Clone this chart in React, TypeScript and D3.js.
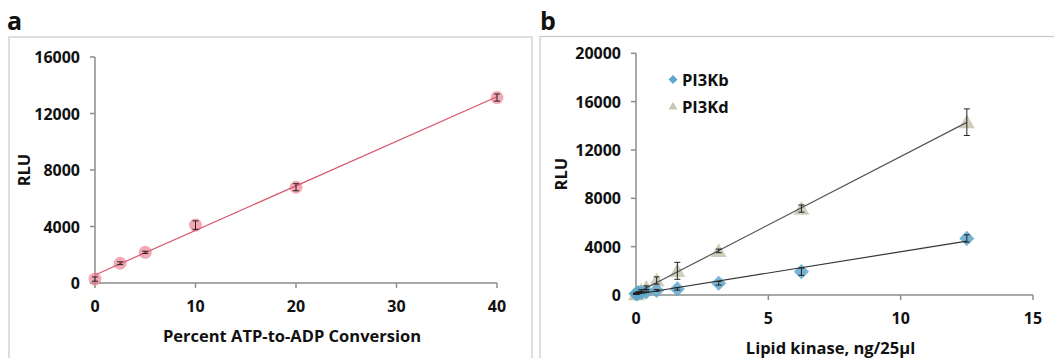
import * as d3 from "d3";
import React from "react";

// panel a: standard curve
const convPct = [0, 2.5, 5, 10, 20, 40];
const convRlu = [280, 1400, 2170, 4100, 6780, 13130];
const convErr = [150, 100, 80, 300, 250, 250];
const convXTicks = [0, 10, 20, 30, 40];
const convYTicks = [0, 4000, 8000, 12000, 16000];

// panel b: lipid kinase titration
const kinaseNg = [0, 0.024, 0.049, 0.098, 0.195, 0.39, 0.78, 1.5625, 3.125, 6.25, 12.5];
const pi3kbRlu = [100, 120, 140, 170, 210, 260, 380, 500, 970, 1930, 4680];
const pi3kbErr = [30, 30, 30, 40, 40, 60, 80, 100, 150, 300, 300];
const pi3kdRlu = [80, 110, 150, 220, 350, 600, 1200, 2000, 3650, 7150, 14300];
const pi3kdErr = [30, 30, 40, 50, 80, 150, 300, 700, 150, 300, 1100];
const kinaseXTicks = [0, 5, 10, 15];
const kinaseYTicks = [0, 4000, 8000, 12000, 16000, 20000];

const font = "'Open Sans', 'DejaVu Sans', sans-serif";
const axisColor = "#8c8c8c";

function fit(xs: number[], ys: number[]) {
  const mx = d3.mean(xs) as number;
  const my = d3.mean(ys) as number;
  let sxy = 0;
  let sxx = 0;
  xs.forEach((x, i) => {
    sxy += (x - mx) * (ys[i] - my);
    sxx += (x - mx) * (x - mx);
  });
  const slope = sxy / sxx;
  return { slope, intercept: my - slope * mx };
}

function Axes({ x, y, xTicks, yTicks, xTitle, titleX }: any) {
  const [x0, x1] = x.range();
  const [y0, y1] = y.range();
  return (
    <g fontFamily={font} fontWeight={700} fontSize={16} fill="#111">
      <line x1={x0} x2={x1} y1={y0} y2={y0} stroke={axisColor} strokeWidth={1.5} />
      <line x1={x0} x2={x0} y1={y0} y2={y1} stroke={axisColor} strokeWidth={1.5} />
      {xTicks.map((t: number) => (
        <g key={"x" + t}>
          <line x1={x(t)} x2={x(t)} y1={y0} y2={y0 + 5} stroke={axisColor} strokeWidth={1.5} />
          <text x={x(t)} y={y0 + 29} textAnchor="middle">{t}</text>
        </g>
      ))}
      {yTicks.map((t: number) => (
        <g key={"y" + t}>
          <line x1={x0 - 5} x2={x0} y1={y(t)} y2={y(t)} stroke={axisColor} strokeWidth={1.5} />
          <text x={x0 - 15} y={y(t) + 6} textAnchor="end">{t}</text>
        </g>
      ))}
      <text x={(x0 + x1) / 2 - 4} y={y0 + 59} textAnchor="middle" fontSize={16.5}>{xTitle}</text>
      <text transform={`translate(${titleX}, ${(y0 + y1) / 2}) rotate(-90)`} textAnchor="middle" fontSize={16.5}>RLU</text>
    </g>
  );
}

function ErrorBars({ x, y, xs, ys, es }: any) {
  return (
    <g stroke="#222" strokeWidth={1}>
      {xs.map((v: number, i: number) => (
        <g key={i}>
          <line x1={x(v)} x2={x(v)} y1={y(ys[i] - es[i])} y2={y(ys[i] + es[i])} />
          <line x1={x(v) - 3} x2={x(v) + 3} y1={y(ys[i] - es[i])} y2={y(ys[i] - es[i])} />
          <line x1={x(v) - 3} x2={x(v) + 3} y1={y(ys[i] + es[i])} y2={y(ys[i] + es[i])} />
        </g>
      ))}
    </g>
  );
}

function TrendLine({ x, y, xs, ys, color }: any) {
  const f = fit(xs, ys);
  const [a, b] = d3.extent(xs) as [number, number];
  return (
    <line x1={x(a)} y1={y(f.intercept + f.slope * a)} x2={x(b)} y2={y(f.intercept + f.slope * b)}
      stroke={color} strokeWidth={1.2} />
  );
}

export default function App() {
  const xa = d3.scaleLinear().domain([0, 40]).range([95, 497]);
  const ya = d3.scaleLinear().domain([0, 16000]).range([283, 57]);
  const xb = d3.scaleLinear().domain([0, 15]).range([636, 1033]);
  const yb = d3.scaleLinear().domain([0, 20000]).range([295, 53.3]);

  const diamond = d3.symbol(d3.symbolSquare, 115)() as string;
  const triangle = d3.symbol(d3.symbolTriangle, 110)() as string;
  const diamondSmall = d3.symbol(d3.symbolSquare, 40)() as string;
  const triangleSmall = d3.symbol(d3.symbolTriangle, 35)() as string;

  return (
    <svg width={1054} height={358} style={{ position: "absolute", left: 0, top: 0, background: "#fff" }}>
      <rect x={0} y={0} width={1054} height={358} fill="#fff" />
      <text x={7} y={30} fontFamily={font} fontWeight={700} fontSize={25} fill="#111">a</text>
      <text x={540} y={30} fontFamily={font} fontWeight={700} fontSize={25} fill="#111">b</text>
      <rect x={9} y={37} width={523} height={340} fill="none" stroke="#c8c8c8" strokeWidth={1.2} />
      <rect x={540} y={36.5} width={530} height={340} fill="none" stroke="#c8c8c8" strokeWidth={1.2} />

      {/* panel a */}
      <Axes x={xa} y={ya} xTicks={convXTicks} yTicks={convYTicks} xTitle="Percent ATP-to-ADP Conversion" titleX={30} />
      <g>
        {convPct.map((v, i) => (
          <circle key={i} cx={xa(v)} cy={ya(convRlu[i])} r={6.5} fill="#ec7c8e" fillOpacity={0.65} />
        ))}
      </g>
      <TrendLine x={xa} y={ya} xs={convPct} ys={convRlu} color="#d9566b" />
      <ErrorBars x={xa} y={ya} xs={convPct} ys={convRlu} es={convErr} />

      {/* panel b */}
      <Axes x={xb} y={yb} xTicks={kinaseXTicks} yTicks={kinaseYTicks} xTitle="Lipid kinase, ng/25µl" titleX={567} />
      <g>
        {kinaseNg.map((v, i) => (
          <path key={"d" + i} d={triangle} transform={`translate(${xb(v)}, ${yb(pi3kdRlu[i]) + 1.5})`} fill="#c9c9b3" fillOpacity={0.9} />
        ))}
        {kinaseNg.map((v, i) => (
          <path key={"b" + i} d={diamond} transform={`translate(${xb(v)}, ${yb(pi3kbRlu[i])}) rotate(45)`} fill="#5fa7cb" fillOpacity={0.85} />
        ))}
      </g>
      <TrendLine x={xb} y={yb} xs={kinaseNg} ys={pi3kdRlu} color="#555" />
      <TrendLine x={xb} y={yb} xs={kinaseNg} ys={pi3kbRlu} color="#333" />
      <ErrorBars x={xb} y={yb} xs={kinaseNg} ys={pi3kdRlu} es={pi3kdErr} />
      <ErrorBars x={xb} y={yb} xs={kinaseNg} ys={pi3kbRlu} es={pi3kbErr} />

      {/* legend */}
      <g fontFamily={font} fontWeight={700} fontSize={16.5} fill="#111">
        <path d={diamondSmall} transform="translate(673, 79.5) rotate(45)" fill="#5fa7cb" />
        <text x={682} y={86}>PI3Kb</text>
        <path d={triangleSmall} transform="translate(673, 107)" fill="#c9c9b3" />
        <text x={682} y={113}>PI3Kd</text>
      </g>
    </svg>
  );
}
